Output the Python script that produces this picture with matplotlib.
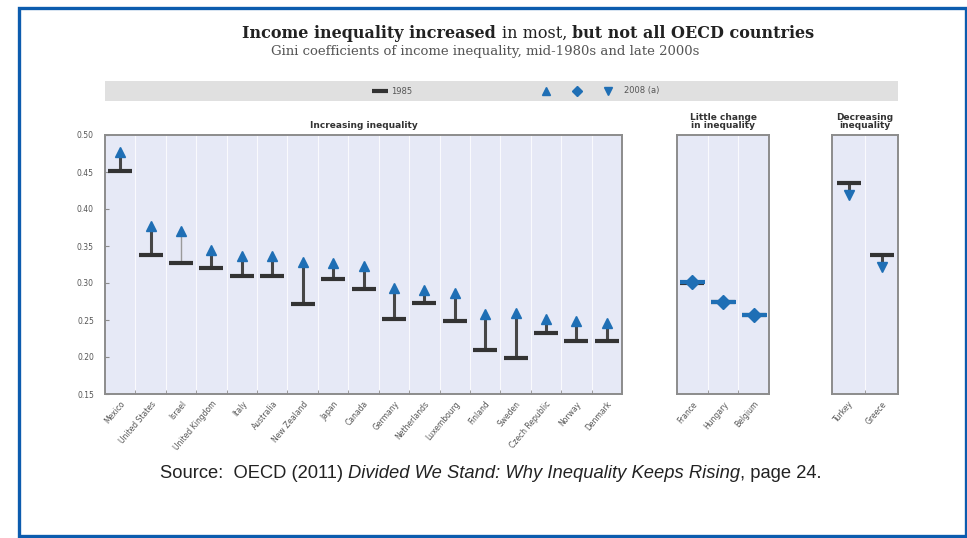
import numpy as np
import matplotlib.pyplot as plt
from matplotlib.lines import Line2D
from matplotlib.legend_handler import HandlerTuple
from matplotlib.patches import Rectangle

# 1. DADOS (Gini, mid-1980s e late 2000s)
paises_aumento = ['Mexico', 'United States', 'Israel', 'United Kingdom', 'Italy',
                  'Australia', 'New Zealand', 'Japan', 'Canada', 'Germany',
                  'Netherlands', 'Luxembourg', 'Finland', 'Sweden',
                  'Czech Republic', 'Norway', 'Denmark']
gini_1985_aumento = [0.452, 0.338, 0.327, 0.320, 0.310, 0.310, 0.271, 0.306, 0.292,
                     0.251, 0.273, 0.248, 0.209, 0.198, 0.232, 0.222, 0.222]
gini_2008_aumento = [0.477, 0.377, 0.370, 0.345, 0.336, 0.336, 0.328, 0.327, 0.323,
                     0.293, 0.291, 0.287, 0.258, 0.260, 0.252, 0.248, 0.246]

paises_estavel = ['France', 'Hungary', 'Belgium']
gini_1985_estavel = [0.300, 0.274, 0.257]
gini_2008_estavel = [0.301, 0.274, 0.257]

paises_queda = ['Turkey', 'Greece']
gini_1985_queda = [0.435, 0.338]
gini_2008_queda = [0.419, 0.322]

y_ticks = [0.15, 0.20, 0.25, 0.30, 0.35, 0.40, 0.45, 0.50]

# 2. ESTILO
cor_fundo = '#e6e9f6'
cor_borda = '#8c8c8c'
cor_1985 = '#333333'
cor_linha = '#474747'
cor_azul = '#1f6fb5'
cor_texto = '#555555'

W, H = 967, 538
fig = plt.figure(figsize=(W / 100, H / 100), dpi=100)


def caixa(x0, y0, x1, y1):
    return [x0 / W, 1 - y1 / H, (x1 - x0) / W, (y1 - y0) / H]


def painel(rect, paises, v85, v08, marcador, titulo, mostrar_y=False, claros=()):
    ax = fig.add_axes(rect)
    ax.set_facecolor(cor_fundo)
    x = np.arange(len(paises))
    for i in range(len(paises)):
        cor = '#9a9a9a' if paises[i] in claros else cor_linha
        lw = 1.0 if paises[i] in claros else 2.2
        ax.plot([x[i], x[i]], [v85[i], v08[i]], color=cor, lw=lw, zorder=2,
                solid_capstyle='butt')
    ax.plot(x, v85, ls='none', marker='_', ms=17, mew=3, color=cor_1985, zorder=3)
    if marcador == 'D':
        ax.plot(x, v08, ls='none', marker='D', ms=7, color=cor_azul, zorder=4)
        ax.plot(x, v08, ls='none', marker='_', ms=18, mew=3, color=cor_azul, zorder=4)
    else:
        ax.plot(x, v08, ls='none', marker=marcador, ms=6.5, color=cor_azul, zorder=4)
    ax.set_xlim(-0.5, len(paises) - 0.5)
    ax.set_ylim(0.15, 0.50)
    ax.set_xticks(x)
    ax.set_xticklabels(paises, rotation=50, ha='right', rotation_mode='anchor',
                       fontsize=5.5, color=cor_texto)
    ax.set_xticks(np.arange(len(paises) + 1) - 0.5, minor=True)
    ax.tick_params(axis='x', which='major', length=0, pad=4)
    ax.tick_params(axis='x', which='minor', direction='in', length=3,
                   color=cor_borda)
    ax.grid(which='minor', axis='x', color='white', lw=0.8, alpha=0.8)
    ax.set_axisbelow(True)
    if mostrar_y:
        ax.set_yticks(y_ticks)
        ax.set_yticklabels(['%.2f' % v for v in y_ticks], fontsize=5.5,
                           color=cor_texto)
        ax.tick_params(axis='y', direction='in', length=3, color=cor_borda, pad=8)
    else:
        ax.set_yticks([])
    for s in ax.spines.values():
        s.set_color(cor_borda)
        s.set_linewidth(1.4)
    ax.set_title(titulo, fontsize=6.5, fontweight='bold', color='#333333',
                 pad=5, linespacing=0.9)
    return ax


painel(caixa(105, 135, 622, 394), paises_aumento, gini_1985_aumento,
       gini_2008_aumento, '^', 'Increasing inequality', mostrar_y=True,
       claros=('Israel',))
painel(caixa(677, 135, 769, 394), paises_estavel, gini_1985_estavel,
       gini_2008_estavel, 'D', 'Little change\nin inequality')
painel(caixa(832, 135, 898, 394), paises_queda, gini_1985_queda,
       gini_2008_queda, 'v', 'Decreasing\ninequality')

# 3. LEGENDA (faixa cinza)
ax_leg = fig.add_axes(caixa(105, 81, 898, 101))
ax_leg.set_facecolor('#e0e0e0')
ax_leg.set_xticks([])
ax_leg.set_yticks([])
for s in ax_leg.spines.values():
    s.set_visible(False)
h85 = Line2D([], [], ls='none', marker='_', ms=12, mew=3, color=cor_1985)
hup = Line2D([], [], ls='none', marker='^', ms=5.5, color=cor_azul)
hdi = Line2D([], [], ls='none', marker='D', ms=5, color=cor_azul)
hdn = Line2D([], [], ls='none', marker='v', ms=5.5, color=cor_azul)
leg1 = ax_leg.legend([h85], ['1985'], loc='center',
                     bbox_to_anchor=(0.363, 0.5), frameon=False, fontsize=6,
                     labelcolor=cor_texto, handlelength=1.6, handletextpad=0.6)
ax_leg.add_artist(leg1)
ax_leg.legend([(hup, hdi, hdn)], ['2008 (a)'], loc='center',
              bbox_to_anchor=(0.618, 0.5), frameon=False, fontsize=6,
              labelcolor=cor_texto, handlelength=11, handletextpad=0.1,
              handler_map={tuple: HandlerTuple(ndivide=None, pad=0)})

# 4. TITULOS E FONTE
t1 = fig.text(242 / W, 1 - 33 / H, 'Income inequality increased ', fontsize=11.5,
              fontweight='bold', family='DejaVu Serif', va='center',
              color='#222222')
t2 = plt.annotate('in most, ', xy=(1, 0), xycoords=t1, va='bottom',
                  fontsize=11.5, family='DejaVu Serif', color='#222222')
plt.annotate('but not all OECD countries', xy=(1, 0), xycoords=t2, va='bottom',
             fontsize=11.5, fontweight='bold', family='DejaVu Serif',
             color='#222222')
fig.text(485 / W, 1 - 51 / H,
         'Gini coefficients of income inequality, mid-1980s and late 2000s',
         fontsize=9.5, family='DejaVu Serif', color='#555555', ha='center',
         va='center')

s1 = fig.text(160 / W, 1 - 474 / H, 'Source:  OECD (2011) ', fontsize=13.2,
              family='Liberation Sans', va='center', color='#222222')
s2 = plt.annotate('Divided We Stand: Why Inequality Keeps Rising', xy=(1, 0),
                  xycoords=s1, va='bottom', fontsize=13.2, style='italic',
                  family='Liberation Sans', color='#222222')
plt.annotate(', page 24.', xy=(1, 0), xycoords=s2, va='bottom', fontsize=13.2,
             family='Liberation Sans', color='#222222')

# moldura azul
fig.patches.append(Rectangle((19 / W, 1 - 536 / H), (966 - 19) / W, (536 - 8) / H,
                             transform=fig.transFigure, fill=False,
                             edgecolor='#0c5cae', lw=2.4))

plt.savefig('out.png', dpi=100)
